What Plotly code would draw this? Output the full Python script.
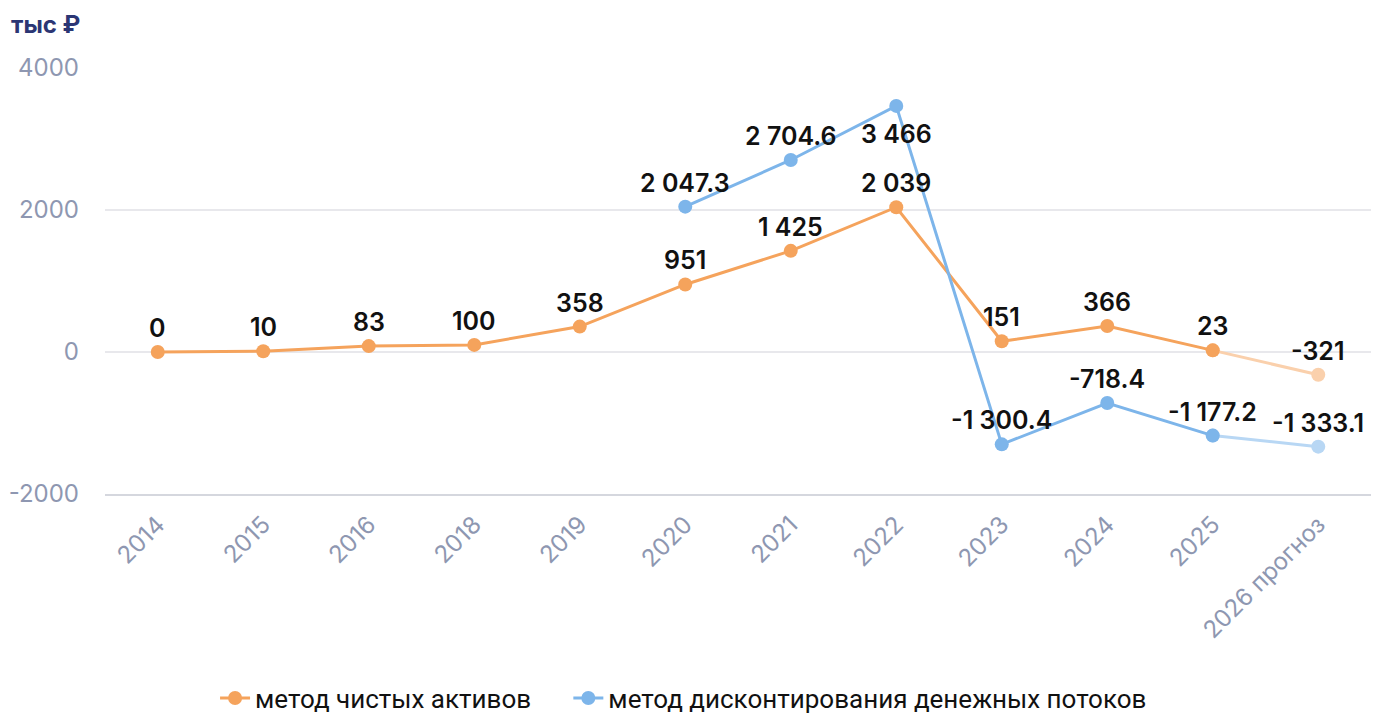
import plotly.graph_objects as go

categories = ["2014", "2015", "2016", "2018", "2019", "2020", "2021", "2022",
              "2023", "2024", "2025", "2026 прогноз"]
net_assets = [0, 10, 83, 100, 358, 951, 1425, 2039, 151, 366, 23, -321]
dcf = [None, None, None, None, None, 2047.3, 2704.6, 3466, -1300.4, -718.4, -1177.2, -1333.1]
dcf_label_below = [False] * 7 + [True] + [False] * 4
y_ticks = [-2000, 0, 2000, 4000]

series_names = ["метод чистых активов", "метод дисконтирования денежных потоков"]
ORANGE, ORANGE_L = "#F5A35C", "#FAD0AC"
BLUE, BLUE_L = "#7DB5EA", "#B8D7F4"


def fmt(v):
    neg = v < 0
    a = abs(v)
    if float(a).is_integer():
        s = f"{int(a):,}".replace(",", " ")
    else:
        ip = int(a)
        dec = f"{a:.1f}".split(".")[1]
        s = f"{ip:,}".replace(",", " ") + "." + dec
    return ("-" if neg else "") + s


LABEL_FONT = dict(family="Inter, Roboto, sans-serif", size=25, color="#111111", weight=600)

fig = go.Figure()

fig.add_trace(go.Scatter(
    x=categories[-2:], y=net_assets[-2:], mode="lines+markers",
    line=dict(color=ORANGE_L, width=3), marker=dict(size=14, color=ORANGE_L),
    showlegend=False, hoverinfo="skip"))
fig.add_trace(go.Scatter(
    x=categories[-2:], y=dcf[-2:], mode="lines+markers",
    line=dict(color=BLUE_L, width=3), marker=dict(size=14, color=BLUE_L),
    showlegend=False, hoverinfo="skip"))
fig.add_trace(go.Scatter(
    x=categories[:-1], y=net_assets[:-1], mode="lines+markers",
    name=series_names[0] + "\u00a0" * 5,
    line=dict(color=ORANGE, width=3), marker=dict(size=14, color=ORANGE)))
fig.add_trace(go.Scatter(
    x=categories[:-1], y=dcf[:-1], mode="lines+markers",
    name=series_names[1],
    line=dict(color=BLUE, width=3), marker=dict(size=14, color=BLUE)))

annotations = []
for i, v in enumerate(net_assets):
    annotations.append(dict(x=i, y=v, xref="x", yref="y", text=fmt(v),
                            showarrow=False, yanchor="bottom", yshift=7, font=LABEL_FONT))
for i, (v, below) in enumerate(zip(dcf, dcf_label_below)):
    if v is None:
        continue
    annotations.append(dict(x=i, y=v, xref="x", yref="y", text=fmt(v),
                            showarrow=False, yanchor="top" if below else "bottom",
                            yshift=-11 if below else 7, font=LABEL_FONT))
annotations.append(dict(text="<b>тыс ₽</b>", xref="paper", yref="paper",
                        x=-0.0755, y=1.101, xanchor="left", yanchor="middle", showarrow=False,
                        font=dict(family="Inter, Roboto, sans-serif", size=24, color="#2B3674")))

fig.update_layout(
    width=1383, height=713,
    margin=dict(l=97, r=20, t=60, b=227, autoexpand=False),
    plot_bgcolor="white", paper_bgcolor="white",
    font=dict(family="Inter, Roboto, sans-serif"),
    legend=dict(orientation="h", x=0.457, xanchor="center",
                y=-0.479, yanchor="middle",
                font=dict(family="Roboto, sans-serif", size=26, color="#111111"),
                itemwidth=30, tracegroupgap=0),
    annotations=annotations,
)
fig.update_xaxes(type="category", categoryorder="array", categoryarray=categories,
                 range=[-0.5, len(categories) - 0.5],
                 tickangle=-45, tickfont=dict(size=24, color="#8E97B1"),
                 showgrid=False, showline=True, linecolor="#D5D7DE", linewidth=2,
                 ticks="", fixedrange=True, automargin=False, ticklabelstandoff=5)
fig.update_yaxes(range=[-2000, 4000], tickvals=y_ticks, ticktext=[str(t) for t in y_ticks],
                 tickfont=dict(size=24, color="#8E97B1"), gridcolor="#E8E8EC", gridwidth=1.5,
                 zeroline=False, showline=False, ticklabelstandoff=25, fixedrange=True,
                 automargin=False)

fig.write_html("out.html")
